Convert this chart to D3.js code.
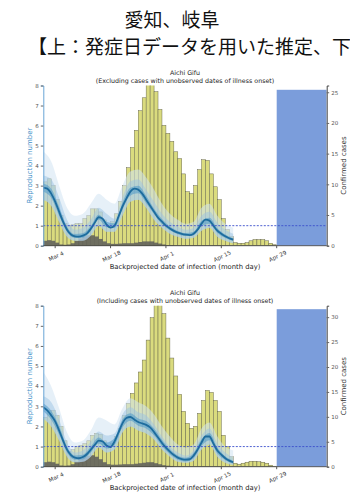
<!DOCTYPE html>
<html>
<head>
<meta charset="utf-8">
<script src="https://cdn.jsdelivr.net/npm/d3@7"></script>
<style>
  body { margin: 0; background: #fff; }
  svg { display: block; }
</style>
</head>
<body>
<svg id="chart" width="350" height="500"></svg>
<script>
// ---- data ----
const headLine1 = "愛知、岐阜";
const headLine2 = "【上：発症日データを用いた推定、下";
const panelTitle = "Aichi Gifu";
const subTitles = [
    "(Excluding cases with unobserved dates of illness onset)",
    "(Including cases with unobserved dates of illness onset)"
];
const xLabel = "Backprojected date of infection (month day)";
const tickLabels = ["Mar 4", "Mar 18", "Apr 1", "Apr 15", "Apr 29"];
const tickDays = [3, 17, 31, 45, 59];          // days after Mar 1
const rTicks = [0, 1, 2, 3, 4, 5, 6, 7, 8];
const caseTicks = [[0, 5, 10, 15, 20, 25], [0, 5, 10, 15, 20, 25, 30]];
const caseMax = [26.1, 32.3];
const shadeStartDay = 59;                      // Apr 29
const shadeHeight = [25.4, 31.6];

// confirmed cases by backprojected infection day, Mar 1 .. Apr 28
const casesExcl = [10.4, 10.9, 9.8, 7.5, 4.9, 3.6, 3.3, 3.4, 3.6, 3.6,
    4.4, 4.9, 6.0, 6.0, 5.5, 4.2, 3.1, 3.9, 5.2, 7.2,
    9.8, 12.7, 16.0, 18.8, 22.0, 24.1, 27.1, 27.1, 25.1, 22.2,
    19.6, 18.3, 17.0, 15.3, 14.2, 11.7, 8.8, 8.5, 9.8, 12.4,
    14.0, 13.9, 11.7, 9.6, 7.5, 4.4, 2.6, 1.5, 0.5, 0.4,
    0.4, 0.5, 0.8, 1.0, 1.0, 1.0, 0.8, 0.4, 0.15];
const casesIncl = [9.9, 11.3, 11.3, 10.3, 8.1, 5.2, 3.0, 3.4, 4.0, 4.3,
    4.6, 5.2, 6.3, 6.7, 6.5, 5.2, 4.0, 4.6, 6.1, 7.7,
    10.3, 12.7, 14.7, 16.8, 19.0, 21.4, 25.4, 29.9, 33.5, 33.5,
    30.7, 25.8, 21.8, 18.2, 14.5, 11.1, 8.7, 7.7, 8.1, 10.7,
    13.3, 15.3, 14.9, 13.3, 11.1, 6.3, 4.0, 2.0, 0.7, 0.5,
    0.7, 0.9, 1.1, 1.1, 1.0, 0.9, 0.7, 0.3, 0.1];
// imported / other cases (dark bars)
const grayExcl = [0.8, 0.9, 0.8, 0.5, 0.2, 0.15, 0.2, 0.4, 0.8, 1.2,
    1.5, 1.7, 1.7, 1.5, 1.1, 0.7, 0.4, 0.3, 0.3, 0.35,
    0.4, 0.4, 0.4, 0.5, 0.6, 0.7, 0.7, 0.7, 0.5, 0.35,
    0.2, 0.1, 0.1, 0.05, 0.05, 0.05, 0.05, 0.05, 0.05, 0.05,
    0.05, 0.05, 0.05, 0.05, 0.05, 0, 0, 0, 0, 0,
    0, 0, 0, 0, 0, 0, 0, 0, 0];
const grayIncl = [0.9, 1.0, 0.9, 0.6, 0.25, 0.2, 0.25, 0.5, 1.0, 1.5,
    1.9, 2.2, 2.3, 2.0, 1.5, 0.9, 0.5, 0.4, 0.4, 0.45,
    0.5, 0.5, 0.5, 0.6, 0.7, 0.8, 0.9, 0.9, 0.7, 0.5,
    0.3, 0.2, 0.15, 0.05, 0.05, 0.05, 0.05, 0.05, 0.05, 0.05,
    0.05, 0.05, 0.05, 0.05, 0.05, 0, 0, 0, 0, 0,
    0, 0, 0, 0, 0, 0, 0, 0, 0];

// reproduction number, median, daily Mar 1 .. Apr 18
const rMedExcl = [2.9, 2.85, 2.6, 2.2, 1.7, 1.2, 0.8, 0.56, 0.47, 0.45,
    0.5, 0.6, 0.85, 1.15, 1.42, 1.35, 1.05, 0.9, 1.0, 1.45,
    1.95, 2.35, 2.7, 2.85, 2.8, 2.6, 2.3, 2.0, 1.7, 1.4,
    1.2, 1.0, 0.86, 0.74, 0.65, 0.59, 0.55, 0.53, 0.6, 0.8,
    1.1, 1.3, 1.25, 1.0, 0.75, 0.6, 0.47, 0.37, 0.3];
const rMedIncl = [2.95, 2.8, 2.55, 2.25, 1.8, 1.3, 0.85, 0.58, 0.45, 0.42,
    0.48, 0.62, 0.85, 1.08, 1.3, 1.25, 1.05, 0.98, 1.25, 1.7,
    2.15, 2.42, 2.47, 2.35, 2.22, 2.15, 2.08, 1.95, 1.72, 1.45,
    1.18, 0.95, 0.75, 0.58, 0.45, 0.38, 0.35, 0.37, 0.55, 0.85,
    1.2, 1.5, 1.5, 1.15, 0.8, 0.6, 0.42, 0.3, 0.22];

// credible bands, every second day
const bandDays = [0, 2, 4, 6, 8, 10, 12, 14, 16, 18, 20, 22, 24, 26, 28, 30, 32, 34, 36, 38, 40, 42, 44, 46, 48];
const outerHiExcl = [4.7, 4.2, 3.0, 1.9, 1.5, 1.6, 2.1, 2.6, 2.3, 2.1, 3.0, 3.7, 3.8, 3.4, 2.8, 2.1, 1.6, 1.3, 1.1, 1.2, 1.9, 2.1, 1.5, 1.1, 0.9];
const hi95Excl = [3.5, 3.3, 2.4, 1.3, 0.8, 0.9, 1.3, 1.9, 1.6, 1.35, 2.4, 3.2, 3.3, 2.8, 2.2, 1.6, 1.2, 0.95, 0.8, 0.9, 1.5, 1.7, 1.15, 0.8, 0.6];
const lo95Excl = [2.3, 2.0, 1.2, 0.45, 0.25, 0.25, 0.5, 1.0, 0.7, 0.7, 1.5, 2.2, 2.3, 1.9, 1.3, 0.9, 0.6, 0.45, 0.35, 0.4, 0.75, 0.9, 0.45, 0.25, 0.12];
const hi50Excl = [3.1, 2.85, 1.95, 0.95, 0.58, 0.62, 0.98, 1.55, 1.2, 1.12, 2.15, 2.9, 3.0, 2.5, 1.85, 1.33, 0.96, 0.74, 0.63, 0.7, 1.25, 1.4, 0.87, 0.56, 0.37];
const lo50Excl = [2.7, 2.4, 1.5, 0.68, 0.38, 0.4, 0.73, 1.3, 0.92, 0.88, 1.78, 2.5, 2.62, 2.12, 1.57, 1.08, 0.77, 0.57, 0.48, 0.52, 0.97, 1.1, 0.64, 0.39, 0.24];

const outerHiIncl = [4.7, 4.0, 2.9, 1.7, 1.2, 1.3, 1.8, 2.45, 2.3, 2.1, 2.9, 3.4, 3.2, 3.0, 2.6, 2.0, 1.5, 1.1, 0.95, 1.1, 1.9, 2.2, 1.5, 1.0, 0.8];
const hi95Incl = [3.5, 3.2, 2.35, 1.2, 0.7, 0.8, 1.25, 1.75, 1.55, 1.65, 2.6, 2.95, 2.7, 2.55, 2.1, 1.5, 1.0, 0.7, 0.55, 0.8, 1.55, 1.9, 1.15, 0.7, 0.45];
const lo95Incl = [2.4, 2.0, 1.3, 0.5, 0.22, 0.25, 0.5, 0.95, 0.7, 0.85, 1.7, 2.0, 1.8, 1.65, 1.35, 0.85, 0.5, 0.25, 0.2, 0.3, 0.85, 1.1, 0.5, 0.2, 0.1];
const hi50Incl = [3.15, 2.78, 2.02, 1.0, 0.56, 0.6, 1.0, 1.45, 1.2, 1.42, 2.35, 2.65, 2.4, 2.27, 1.9, 1.34, 0.88, 0.56, 0.45, 0.68, 1.36, 1.68, 0.95, 0.52, 0.3];
const lo50Incl = [2.75, 2.33, 1.6, 0.7, 0.34, 0.36, 0.7, 1.15, 0.9, 1.08, 1.95, 2.28, 2.04, 1.9, 1.55, 1.02, 0.62, 0.35, 0.26, 0.42, 1.04, 1.32, 0.65, 0.32, 0.15];

// ---- layout ----
const plotLeft = 43.3, plotRight = 326.7;
const xMaxDay = 71.64;
const font = "'DejaVu Sans', sans-serif";

const panels = [
    { top: 85.5, bottom: 245.7, titleY: 75, cases: casesExcl, gray: grayExcl, med: rMedExcl,
      outerHi: outerHiExcl, hi95: hi95Excl, lo95: lo95Excl, hi50: hi50Excl, lo50: lo50Excl },
    { top: 305.7, bottom: 466.7, titleY: 295, cases: casesIncl, gray: grayIncl, med: rMedIncl,
      outerHi: outerHiIncl, hi95: hi95Incl, lo95: lo95Incl, hi50: hi50Incl, lo50: lo50Incl }
];

const svg = d3.select("#chart");
svg.append("rect").attr("width", 350).attr("height", 500).attr("fill", "#fff");

// Japanese header
svg.append("text")
    .attr("x", 172).attr("y", 27)
    .attr("text-anchor", "middle")
    .style("font-family", "'Noto Sans CJK JP'")
    .style("font-size", "19px")
    .attr("fill", "#111")
    .text(headLine1);

svg.append("text")
    .attr("x", 28).attr("y", 54)
    .style("font-family", "'Noto Sans CJK JP'")
    .style("font-size", "19px")
    .attr("fill", "#111")
    .text(headLine2);

const x = d3.scaleLinear().domain([0, xMaxDay]).range([plotLeft, plotRight]);

panels.forEach((p, k) => {
    const yR = d3.scaleLinear().domain([0, 8]).range([p.bottom, p.top]);
    const yC = d3.scaleLinear().domain([0, caseMax[k]]).range([p.bottom, p.top]);

    const clipId = "plotclip" + k;
    svg.append("clipPath").attr("id", clipId)
        .append("rect")
        .attr("x", plotLeft).attr("y", p.top)
        .attr("width", plotRight - plotLeft).attr("height", p.bottom - p.top);

    const g = svg.append("g");
    const plot = g.append("g").attr("clip-path", `url(#${clipId})`);

    // blue shaded block (unobserved period)
    plot.append("rect")
        .attr("x", x(shadeStartDay))
        .attr("y", yC(shadeHeight[k]))
        .attr("width", x(xMaxDay) - x(shadeStartDay))
        .attr("height", yC(0) - yC(shadeHeight[k]))
        .attr("fill", "#7b9ddb");

    // confirmed cases bars
    plot.selectAll(".case-bar")
        .data(p.cases)
        .join("rect")
        .attr("class", "case-bar")
        .attr("x", (d, i) => x(i))
        .attr("width", x(1) - x(0))
        .attr("y", d => yC(d))
        .attr("height", d => yC(0) - yC(d))
        .attr("fill", "#dadb7e")
        .attr("stroke", "#5f5f48")
        .attr("stroke-width", 0.45);

    // dark bars
    plot.selectAll(".gray-bar")
        .data(p.gray)
        .join("rect")
        .attr("class", "gray-bar")
        .attr("x", (d, i) => x(i))
        .attr("width", x(1) - x(0))
        .attr("y", d => yC(d))
        .attr("height", d => yC(0) - yC(d))
        .attr("fill", "#5b5b5b")
        .attr("opacity", 0.85);

    // R bands
    const band = (lo, hi) => d3.area()
        .x((d, i) => x(bandDays[i]))
        .y0((d, i) => yR(lo[i]))
        .y1((d, i) => yR(hi[i]))
        .curve(d3.curveMonotoneX)(bandDays);

    plot.append("path").attr("d", band(p.lo95, p.outerHi))
        .attr("fill", "#d2e3f2").attr("opacity", 0.55);
    plot.append("path").attr("d", band(p.lo95, p.hi95))
        .attr("fill", "#9cc4e4").attr("opacity", 0.5);
    plot.append("path").attr("d", band(p.lo50, p.hi50))
        .attr("fill", "#4a98c8").attr("opacity", 0.55);

    plot.append("path")
        .attr("d", d3.line()
            .x((d, i) => x(i))
            .y(d => yR(d))
            .curve(d3.curveMonotoneX)(p.med))
        .attr("fill", "none")
        .attr("stroke", "#1d6c9e")
        .attr("stroke-width", 1.8);

    // R = 1 reference line
    g.append("line")
        .attr("x1", plotLeft).attr("x2", plotRight)
        .attr("y1", yR(1)).attr("y2", yR(1))
        .attr("stroke", "#3b4fcc")
        .attr("stroke-width", 0.9)
        .attr("stroke-dasharray", "2,1.5");

    // left axis (R)
    const left = g.append("g")
        .attr("transform", `translate(${plotLeft},0)`)
        .call(d3.axisLeft(yR).tickValues(rTicks).tickSize(2.5).tickPadding(2));
    left.select(".domain").attr("stroke", "#6aa6d6");
    left.selectAll(".tick line").attr("stroke", "#666");
    left.selectAll("text").style("font-family", font).style("font-size", "5.5px").attr("fill", "#555");

    // right axis (cases)
    const right = g.append("g")
        .attr("transform", `translate(${plotRight},0)`)
        .call(d3.axisRight(yC).tickValues(caseTicks[k]).tickSize(2.5).tickPadding(2));
    right.select(".domain").attr("stroke", "#444");
    right.selectAll(".tick line").attr("stroke", "#666");
    right.selectAll("text").style("font-family", font).style("font-size", "5.5px").attr("fill", "#555");

    // bottom axis
    g.append("line")
        .attr("x1", plotLeft).attr("x2", plotRight)
        .attr("y1", p.bottom).attr("y2", p.bottom)
        .attr("stroke", "#333").attr("stroke-width", 0.8);
    tickDays.forEach((t, i) => {
        g.append("line")
            .attr("x1", x(t)).attr("x2", x(t))
            .attr("y1", p.bottom).attr("y2", p.bottom + 2.5)
            .attr("stroke", "#555");
        g.append("text")
            .attr("transform", `translate(${x(t) + 1},${p.bottom + 10.5}) rotate(-25)`)
            .attr("text-anchor", "middle")
            .attr("dy", "0.35em")
            .style("font-family", font)
            .style("font-size", "5.6px")
            .attr("fill", "#333")
            .text(tickLabels[i]);
    });

    // axis titles
    g.append("text")
        .attr("x", 185).attr("y", p.bottom + 23.5)
        .attr("text-anchor", "middle")
        .style("font-family", font)
        .style("font-size", "6.8px")
        .attr("fill", "#222")
        .text(xLabel);

    const midY = (p.top + p.bottom) / 2;
    g.append("text")
        .attr("transform", `translate(32,${midY}) rotate(-90)`)
        .attr("text-anchor", "middle")
        .style("font-family", font)
        .style("font-size", "7px")
        .attr("fill", "#3f8fc8")
        .text("Reproduction number");

    g.append("text")
        .attr("transform", `translate(345.5,${midY}) rotate(-90)`)
        .attr("text-anchor", "middle")
        .style("font-family", font)
        .style("font-size", "7px")
        .attr("fill", "#333")
        .text("Confirmed cases");

    // panel titles
    g.append("text")
        .attr("x", 185).attr("y", p.titleY)
        .attr("text-anchor", "middle")
        .style("font-family", font)
        .style("font-size", "6.3px")
        .attr("fill", "#222")
        .text(panelTitle);
    g.append("text")
        .attr("x", 185).attr("y", p.titleY + 7.5)
        .attr("text-anchor", "middle")
        .style("font-family", font)
        .style("font-size", "6.3px")
        .attr("fill", "#222")
        .text(subTitles[k]);
});
</script>
</body>
</html>
